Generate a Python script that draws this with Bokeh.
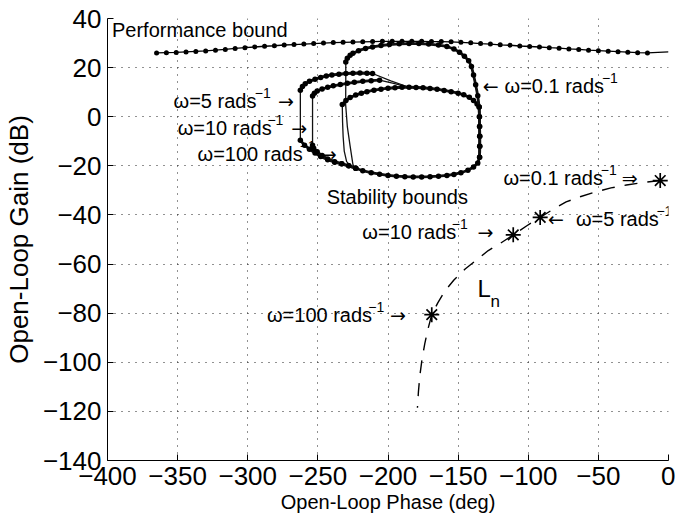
from bokeh.plotting import figure
from bokeh.models import Label, FixedTicker
from bokeh.embed import file_html
from bokeh.resources import INLINE

# ---------------- data ----------------
# Performance bound (phase deg, gain dB)
perf_phase = [-365, -358, -351, -344, -337, -330, -323, -316, -309, -302, -295, -288, -281,
              -274, -267, -260, -253, -246, -239, -232, -225, -218, -211, -204, -197, -190,
              -183, -176, -169, -162, -155, -148, -141, -134, -127, -120, -113, -106, -99,
              -92, -85, -78, -71, -64, -57, -50, -43, -36, -29, -22, -15]
perf_gain = [26.0, 26.1, 26.2, 26.4, 26.6, 26.8, 27.1, 27.4, 27.8, 28.1, 28.4, 28.7, 28.9,
             29.2, 29.4, 29.6, 29.8, 30.0, 30.2, 30.3, 30.4, 30.5, 30.6, 30.7, 30.7, 30.7,
             30.7, 30.7, 30.6, 30.6, 30.5, 30.3, 30.1, 29.8, 29.6, 29.3, 29.1, 28.8, 28.6,
             28.4, 28.1, 27.9, 27.6, 27.4, 27.1, 26.9, 26.7, 26.5, 26.3, 26.1, 26.0]
perf_tail_phase = [-15, 0]
perf_tail_gain = [26.0, 26.4]

# Stability bounds: shared pieces
shared_top_phase = [-185, -180, -175, -170, -165, -160, -155, -150, -146, -142, -139, -136.5, -135]
shared_top_gain = [12.0, 11.9, 11.8, 11.5, 11.2, 10.7, 10.2, 9.6, 8.9, 7.9, 6.6, 5.2, 4.0]
right_phase = [-134.8, -134.7, -134.6, -134.6, -134.7]
right_gain = [0.0, -4.0, -8.0, -12.0, -16.5]
bottom_phase = [-136, -139, -143, -148, -153, -158, -164, -170, -176, -182, -188, -194, -200,
                -206, -212, -218, -223]
bottom_gain = [-18.8, -20.5, -21.8, -22.8, -23.5, -23.9, -24.2, -24.4, -24.5, -24.5, -24.4,
               -24.2, -23.9, -23.4, -22.8, -22.0, -21.0]

# omega = 100 rad/s bound
w100_top_phase = [-232.6, -230, -227, -223, -219, -215, -210, -205, -200, -195, -190]
w100_top_gain = [5.0, 6.6, 7.8, 8.8, 9.6, 10.2, 10.8, 11.2, 11.6, 11.8, 12.0]
w100_left_phase = [-227, -229.5, -231.2, -232.0, -232.4]
w100_left_gain = [-19.8, -18.3, -14.0, -8.0, -2.0]

# omega = 0.1 rad/s bound
w01_left_phase = [-225, -227, -229, -230.2, -230.1]
w01_left_gain = [-19.5, -12.0, -4.0, 5.0, 14.0]
w01_top_phase = [-230.1, -229, -227, -225, -221, -216, -211, -205, -199, -192, -185, -178,
                 -171, -164, -158, -153, -149, -145.5, -142.5, -140.5, -139, -137.5, -136, -135]
w01_top_gain = [22.3, 23.8, 25.0, 25.8, 26.9, 27.8, 28.4, 29.0, 29.4, 29.7, 29.8, 29.8,
                29.6, 29.2, 28.6, 27.6, 26.3, 24.6, 22.8, 20.5, 17.0, 13.0, 8.5, 4.0]

# omega = 5 rad/s bound
w5_bot_phase = [-223, -228, -233, -238, -243, -248, -252, -256, -259.5, -262.5]
w5_bot_gain = [-21.0, -20.0, -19.2, -18.5, -17.5, -16.2, -14.8, -13.2, -11.6, -9.6]
w5_side_phase = [-262.5, -262.5]
w5_side_gain = [-2.0, 5.0]
w5_top_phase = [-262.5, -261, -259, -256, -252, -248, -244, -240, -235, -230, -225, -220,
                -215, -211]
w5_top_gain = [10.8, 12.3, 13.4, 14.4, 15.3, 16.0, 16.6, 17.0, 17.3, 17.6, 17.7, 17.8,
               17.7, 17.6]
w5_link_phase = [-211, -198, -185]
w5_link_gain = [17.6, 14.6, 12.0]

# omega = 10 rad/s bound
w10_bot_phase = [-223, -228, -233, -238, -243, -247, -250.5, -253, -253.8]
w10_bot_gain = [-21.0, -20.0, -19.2, -18.3, -17.2, -15.8, -14.3, -12.8, -11.6]
w10_side_phase = [-253.8]
w10_side_gain = [0.0]
w10_top_phase = [-253.8, -252.5, -250.5, -247, -243, -239, -234, -229, -224, -218, -212, -206]
w10_top_gain = [8.4, 9.6, 10.5, 11.3, 12.0, 12.6, 13.1, 13.6, 14.0, 14.4, 14.7, 14.9]
w10_link_phase = [-206, -196, -185]
w10_link_gain = [14.9, 13.6, 12.0]

# Nominal open loop L_n
ln_phase = [-5.9, -18, -30, -41, -52, -63, -73, -82, -91.5, -101, -110.7, -120, -128.5,
            -137, -145, -153, -159.5, -164.5, -168.8, -171.5, -173.8, -175.8, -177.3,
            -178.3, -179]
ln_gain = [-26.0, -26.8, -27.8, -29.0, -30.6, -32.6, -34.7, -37.6, -41.0, -44.4, -48.1,
           -51.6, -54.5, -58.4, -62.0, -66.5, -71.0, -75.8, -80.6, -86.5, -92.5, -99.0,
           -105.5, -112.0, -118.5]
star_phase = [-5.9, -91.5, -110.7, -168.8]
star_gain = [-26.0, -41.0, -48.1, -80.6]

x_ticks = [-400, -350, -300, -250, -200, -150, -100, -50, 0]
y_ticks = [-140, -120, -100, -80, -60, -40, -20, 0, 20, 40]

# ---------------- build contours ----------------
def join(*parts, close=False):
    xs, ys = [], []
    for px, py in parts:
        xs += list(px)
        ys += list(py)
    if close:
        xs.append(xs[0]); ys.append(ys[0])
    return xs, ys

SHARED = [(shared_top_phase, shared_top_gain), (right_phase, right_gain), (bottom_phase, bottom_gain)]
thin_paths = [
    join((w100_top_phase, w100_top_gain), *SHARED, (w100_left_phase, w100_left_gain), close=True),
    join((w01_left_phase, w01_left_gain), (w01_top_phase, w01_top_gain),
         (right_phase, right_gain), (bottom_phase, bottom_gain), close=True),
    join((w5_bot_phase, w5_bot_gain), (w5_side_phase, w5_side_gain), (w5_top_phase, w5_top_gain),
         (w5_link_phase, w5_link_gain)),
    join((w10_bot_phase, w10_bot_gain), (w10_side_phase, w10_side_gain),
         (w10_top_phase, w10_top_gain), (w10_link_phase, w10_link_gain)),
]
thick_paths = [
    join((w100_top_phase, w100_top_gain), *SHARED),
    join((w01_top_phase, w01_top_gain), (right_phase, right_gain)),
    join((w5_bot_phase, w5_bot_gain)),
    join((w5_top_phase, w5_top_gain)),
    join((w10_bot_phase, w10_bot_gain)),
    join((w10_top_phase, w10_top_gain)),
]

FONT = "Liberation Sans"
ARROW_FONT = "DejaVu Sans"

p = figure(width=675, height=524, x_range=(-400, 0), y_range=(-140, 40),
           output_backend="svg", toolbar_location=None,
           min_border_left=104, min_border_right=7, min_border_top=18, min_border_bottom=64)
p.outline_line_color = None
p.background_fill_color = "white"
p.border_fill_color = "white"

for ax, ticks in ((p.xaxis[0], x_ticks), (p.yaxis[0], y_ticks)):
    ax.ticker = FixedTicker(ticks=ticks)
    ax.major_label_overrides = {t: (str(t).replace("-", "\u2212")) for t in ticks}
    ax.major_tick_in = 6
    ax.major_tick_out = 0
    ax.minor_tick_line_color = None
    ax.axis_line_color = "black"
    ax.major_tick_line_color = "black"
    ax.major_label_text_font = FONT
    ax.major_label_text_font_size = "26px"
    ax.major_label_text_color = "black"
    ax.axis_label_text_font = FONT
    ax.axis_label_text_font_style = "normal"
    ax.axis_label_text_color = "black"

p.xaxis.axis_label = "Open-Loop Phase (deg)"
p.xaxis.axis_label_text_font_size = "20px"
p.xaxis.major_label_standoff = 6
p.xaxis.axis_label_standoff = 3
p.yaxis.axis_label = "Open-Loop Gain (dB)"
p.yaxis.axis_label_text_font_size = "26px"
p.yaxis.major_label_standoff = 6
p.yaxis.axis_label_standoff = 6

p.grid.grid_line_color = "#222222"
p.grid.grid_line_dash = "1 6"
p.grid.grid_line_width = 1

# performance bound
p.line(perf_phase, perf_gain, line_color="black", line_width=1.3)
p.line(perf_tail_phase, perf_tail_gain, line_color="black", line_width=1.3)
p.scatter(perf_phase, perf_gain, marker="circle", size=5, fill_color="black", line_color=None)

# stability bounds
for cx, cy in thin_paths:
    p.line(cx, cy, line_color="#111111", line_width=1.3)
for cx, cy in thick_paths:
    p.line(cx, cy, line_color="#111111", line_width=2.8)
    p.scatter(cx, cy, marker="circle", size=5.5, fill_color="black", line_color=None)

# L_n
p.line(ln_phase, ln_gain, line_color="black", line_width=1.4, line_dash="13 10")
p.scatter(star_phase, star_gain, marker="asterisk", size=15, line_color="black", line_width=1.7)

def lab(x, y, t, size="20px", font=FONT):
    p.add_layout(Label(x=x - 2.0, y=y, text=t, text_font=font, text_font_size=size,
                       text_baseline="middle", text_align="left", text_color="black"))

def arrow(x, y, t):
    lab(x, y, t, "19px", ARROW_FONT)

SUP = "\u22121"
SS = "14px"
lab(-394.8, 35.2, "Performance bound")
lab(-350.9, 6.3, "\u03c9=5 rads"); lab(-293.0, 9.8, SUP, SS); arrow(-276.5, 6.3, "\u2192")
lab(-348.0, -4.7, "\u03c9=10 rads"); lab(-284.0, -1.3, SUP, SS); arrow(-267.0, -4.7, "\u2192")
lab(-333.8, -15.3, "\u03c9=100 rads"); lab(-261.0, -11.9, SUP, SS); arrow(-246.0, -15.3, "\u2192")
arrow(-130.4, 12.5, "\u2190"); lab(-114.9, 12.5, "\u03c9=0.1 rads"); lab(-45.5, 15.9, SUP, SS)
lab(-115.7, -25.0, "\u03c9=0.1 rads"); lab(-46.3, -21.6, SUP, SS); arrow(-31.4, -25.0, "\u21d2")
arrow(-83.9, -41.8, "\u2190"); lab(-64.0, -41.8, "\u03c9=5 rads"); lab(-6.6, -38.4, SUP, SS)
lab(-216.3, -47.1, "\u03c9=10 rads"); lab(-152.5, -43.7, SUP, SS); arrow(-134.1, -47.1, "\u2192")
lab(-284.3, -80.9, "\u03c9=100 rads"); lab(-212.1, -77.5, SUP, SS); arrow(-196.5, -80.9, "\u2192")
lab(-241.7, -32.8, "Stability bounds")
lab(-134.1, -69.9, "L", "24px")
lab(-124.9, -75.4, "n", "17px")

open("out.html", "w").write(file_html(p, INLINE))
